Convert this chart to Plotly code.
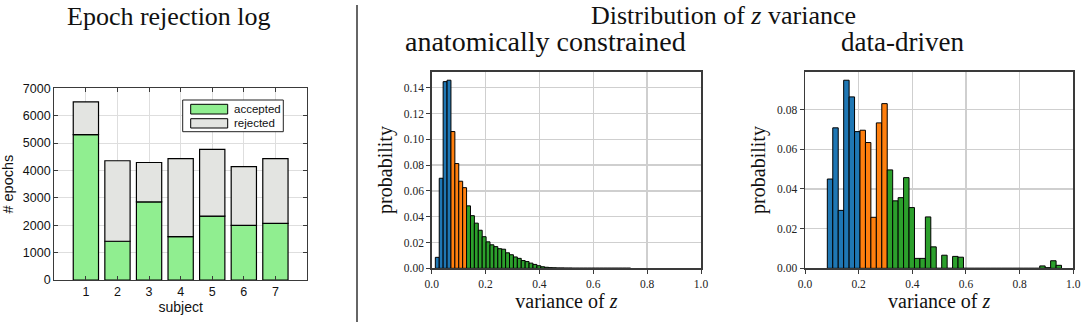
import numpy as np
import plotly.graph_objects as go

# ---------------- data ----------------
subjects = [1, 2, 3, 4, 5, 6, 7]
accepted = [5310, 1415, 2850, 1585, 2335, 1995, 2070]
rejected = [1195, 2940, 1440, 2845, 2435, 2145, 2360]

# anatomically constrained histogram (probability per bin)
anat_start = 0.0135
anat_width = 0.0145
anat_prob = [0.0085, 0.0698, 0.1447, 0.1458, 0.1060, 0.0812, 0.0675, 0.0625,
             0.0484, 0.0408, 0.0350, 0.0295, 0.0245, 0.0205, 0.0182, 0.0168,
             0.0152, 0.0148, 0.0120, 0.0105, 0.0088, 0.0077, 0.0060, 0.0052,
             0.0040, 0.0030, 0.0020, 0.0012, 0.0008, 0.0005, 0.0004, 0.0003,
             0.0003, 0.0002, 0.0002, 0.0001, 0.0001, 0.0001, 0.0001, 0.0001,
             0.0001, 0.0001, 0.0001, 0.0001, 0.0001, 0.0001, 0.0001, 0.0001,
             0.0001, 0.0001]
anat_n_blue, anat_n_orange = 4, 4

# data-driven histogram
dd_start = 0.0832
dd_width = 0.0203
dd_prob = [0.0450, 0.0708, 0.0292, 0.0948, 0.0864, 0.0689,
           0.0696, 0.0634, 0.0257, 0.0733, 0.0830,
           0.0496, 0.0340, 0.0356, 0.0457, 0.0306, 0.0050, 0.0050, 0.0259,
           0.0108, 0.0, 0.0066, 0.0, 0.0060, 0.0056,
           0, 0, 0, 0, 0, 0, 0, 0, 0, 0, 0, 0, 0, 0,
           0.0012, 0.0003, 0.0038, 0.0015]
dd_n_blue, dd_n_orange = 6, 5

x_ticks = [0.0, 0.2, 0.4, 0.6, 0.8, 1.0]

C_BLUE, C_ORANGE, C_GREEN = "#1f77b4", "#ff7f0e", "#2ca02c"
C_ACC, C_REJ = "#90ee90", "#e3e4e1"

W, H = 1084, 329


def px(x):
    return x / W


def py(y):
    return 1 - y / H


fig = go.Figure()

# ---------------- left: stacked bars ----------------
fig.add_trace(go.Bar(x=subjects, y=accepted, width=0.8, name="accepted",
                     marker=dict(color=C_ACC, line=dict(color="black", width=1.2)),
                     xaxis="x", yaxis="y", showlegend=False))
fig.add_trace(go.Bar(x=subjects, y=rejected, base=accepted, width=0.8, name="rejected",
                     marker=dict(color=C_REJ, line=dict(color="black", width=1.2)),
                     xaxis="x", yaxis="y", showlegend=False))


def add_hist(start, width, prob, n_blue, n_orange, xa, ya):
    prob = np.asarray(prob, dtype=float)
    centers = start + width * (np.arange(len(prob)) + 0.5)
    groups = [(0, n_blue, C_BLUE), (n_blue, n_blue + n_orange, C_ORANGE),
              (n_blue + n_orange, len(prob), C_GREEN)]
    for a, b, col in groups:
        fig.add_trace(go.Bar(x=centers[a:b], y=prob[a:b], width=width,
                             marker=dict(color=col, line=dict(color="black", width=1)),
                             xaxis=xa, yaxis=ya, showlegend=False))


add_hist(anat_start, anat_width, anat_prob, anat_n_blue, anat_n_orange, "x2", "y2")
add_hist(dd_start, dd_width, dd_prob, dd_n_blue, dd_n_orange, "x3", "y3")

SANS = "Liberation Sans"
SERIF = "Liberation Serif"
FRAME = "#3a3a3a"

hist_x = dict(range=[0, 1], tickvals=x_ticks, tickformat=".1f", showgrid=True,
              gridcolor="#cfcfcf", gridwidth=1.3, showline=True, linecolor=FRAME,
              linewidth=1.5, mirror=True, ticks="outside", ticklen=4, tickcolor=FRAME,
              tickfont=dict(family=SERIF, size=11.5, color="#222"), zeroline=False,
              automargin=False,
              title=dict(text="variance of <i>z</i>", font=dict(family=SERIF, size=20, color="#111"),
                         standoff=5))
hist_y = dict(showgrid=True, gridcolor="#cfcfcf", gridwidth=1.3, showline=True,
              linecolor=FRAME, linewidth=1.5, mirror=True, ticks="outside", ticklen=4,
              tickcolor=FRAME, tickformat=".2f", automargin=False,
              tickfont=dict(family=SERIF, size=11.5, color="#222"), zeroline=False,
              title=dict(text="probability", font=dict(family=SERIF, size=20, color="#111"),
                         standoff=6))

fig.update_layout(
    template="none",
    width=W, height=H, margin=dict(l=0, r=0, t=0, b=0, autoexpand=False),
    paper_bgcolor="white", plot_bgcolor="white", barmode="overlay", bargap=0,
    xaxis=dict(domain=[px(54.3), px(307)], range=[0, 8], tickvals=subjects,
               showgrid=True, gridcolor="#dedede", gridwidth=1, showline=True,
               linecolor=FRAME, linewidth=1.2, mirror="allticks", ticks="inside",
               ticklen=4, tickcolor=FRAME, zeroline=False, automargin=False,
               tickfont=dict(family=SANS, size=12.5, color="#111"),
               title=dict(text="subject", font=dict(family=SANS, size=14, color="#111"), standoff=2)),
    yaxis=dict(domain=[py(280), py(88.3)], range=[0, 7000], dtick=1000,
               showgrid=True, gridcolor="#dedede", gridwidth=1, showline=True,
               linecolor=FRAME, linewidth=1.2, mirror="allticks", ticks="inside",
               ticklen=4, tickcolor=FRAME, zeroline=False, automargin=False,
               tickfont=dict(family=SANS, size=12.5, color="#111"),
               title=dict(text="# epochs", font=dict(family=SANS, size=14.5, color="#111"), standoff=6)),
    xaxis2=dict(domain=[px(431.7), px(701)], anchor="y2", **hist_x),
    yaxis2=dict(domain=[py(268.3), py(71.7)], anchor="x2", range=[0, 0.1524], dtick=0.02, **hist_y),
    xaxis3=dict(domain=[px(805), px(1073.3)], anchor="y3", **hist_x),
    yaxis3=dict(domain=[py(268.3), py(71.7)], anchor="x3", range=[0, 0.0991], dtick=0.02, **hist_y),
)

# custom legend for left chart
shapes = [
    dict(type="rect", xref="paper", yref="paper", x0=px(182.7), x1=px(283.3),
         y0=py(131.7), y1=py(100), line=dict(color="#222", width=1), fillcolor="white", layer="above"),
    dict(type="rect", xref="paper", yref="paper", x0=px(190.7), x1=px(227.7),
         y0=py(114), y1=py(104.3), line=dict(color="black", width=1), fillcolor=C_ACC, layer="above"),
    dict(type="rect", xref="paper", yref="paper", x0=px(190.7), x1=px(227.7),
         y0=py(128), y1=py(118.7), line=dict(color="black", width=1), fillcolor=C_REJ, layer="above"),
    # separator
    dict(type="line", xref="paper", yref="paper", x0=px(357), x1=px(357),
         y0=py(322), y1=py(5), line=dict(color="#333", width=1.5)),
]
fig.update_layout(shapes=shapes)

ann = [
    dict(text="accepted", x=px(231.5), y=py(109.2), xanchor="left", yanchor="middle",
         font=dict(family=SANS, size=11.5, color="#111")),
    dict(text="rejected", x=px(231.5), y=py(123.4), xanchor="left", yanchor="middle",
         font=dict(family=SANS, size=11.5, color="#111")),
    dict(text="Epoch rejection log", x=px(169), y=py(17), xanchor="center", yanchor="middle",
         font=dict(family=SERIF, size=26, color="#111")),
    dict(text="Distribution of <i>z</i> variance", x=px(724), y=py(15), xanchor="center",
         yanchor="middle", font=dict(family=SERIF, size=26, color="#111")),
    dict(text="anatomically constrained", x=px(545), y=py(42), xanchor="center",
         yanchor="middle", font=dict(family=SERIF, size=28, color="#111")),
    dict(text="data-driven", x=px(902), y=py(42), xanchor="center",
         yanchor="middle", font=dict(family=SERIF, size=27, color="#111")),
]
for a in ann:
    a.update(xref="paper", yref="paper", showarrow=False)
fig.update_layout(annotations=ann)

fig.write_html("out.html", config={"displayModeBar": False, "staticPlot": True},
               post_script="document.body.style.margin='0';document.body.style.overflow='hidden';")
